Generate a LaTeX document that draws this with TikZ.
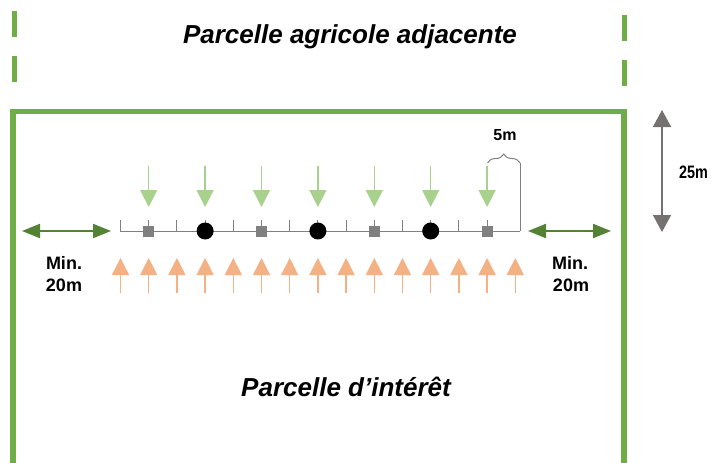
\documentclass[tikz,border=0pt]{standalone}
\usepackage{fontspec}
\setmainfont{Liberation Sans}
\usetikzlibrary{arrows.meta,decorations.pathreplacing}
\definecolor{framegreen}{HTML}{70AD47}
\definecolor{lightgreen}{HTML}{A9D18E}
\definecolor{darkgreen}{HTML}{548235}
\definecolor{peach}{HTML}{F4B183}
\definecolor{rulergray}{HTML}{808080}
\definecolor{dimgray}{HTML}{767171}
\tikzset{
  frameline/.style={draw=framegreen,line width=5.5pt},
  rulerline/.style={draw=rulergray,line width=1pt},
  downarrow/.style={draw=lightgreen,line width=1.4pt,-{Triangle[length=17pt,width=17pt]}},
  uparrow/.style={draw=peach,line width=1.4pt,-{Triangle[length=17pt,width=17pt]}},
  minarrow/.style={draw=darkgreen,line width=2pt,{Triangle[length=18pt,width=14pt]}-{Triangle[length=18pt,width=14pt]}},
  dimarrow/.style={draw=dimgray,line width=1.5pt,{Triangle[length=17pt,width=18pt]}-{Triangle[length=17pt,width=18pt]}},
  sqmark/.style={fill=rulergray,minimum size=11pt,inner sep=0pt,outer sep=0pt},
  dotmark/.style={circle,fill=black,minimum size=17pt,inner sep=0pt,outer sep=0pt},
  title/.style={font=\fontsize{26}{30}\selectfont\bfseries\itshape,inner sep=0pt},
  lbl/.style={font=\fontsize{18}{22}\selectfont\bfseries,inner sep=0pt,align=center}
}
\begin{document}
\begin{tikzpicture}[x=1pt,y=-1pt]
\clip (0,0) rectangle (712,463);
\fill[white] (0,0) rectangle (712,463);

% adjacent plot dashed borders
\coordinate (dl1a) at (14.5,11); \coordinate (dl1b) at (14.5,37);
\coordinate (dl2a) at (14.5,56); \coordinate (dl2b) at (14.5,82);
\coordinate (dr1a) at (624.5,15); \coordinate (dr1b) at (624.5,41);
\coordinate (dr2a) at (624.5,60); \coordinate (dr2b) at (624.5,86);
\draw[frameline] (dl1a) -- (dl1b);
\draw[frameline] (dl2a) -- (dl2b);
\draw[frameline] (dr1a) -- (dr1b);
\draw[frameline] (dr2a) -- (dr2b);

% plot of interest frame
\coordinate (fbl) at (13,470);
\coordinate (ftl) at (13,111.5);
\coordinate (ftr) at (624,111.5);
\coordinate (fbr) at (624,470);
\draw[frameline] (fbl) -- (ftl) -- (ftr) -- (fbr);

% titles
\node[title] (adj) at (350,37) {Parcelle agricole adjacente};
\node[title] (interest) at (346,387) {Parcelle d’intérêt};

% ruler
\coordinate (rl) at (120.5,231);
\coordinate (rr) at (520,231);
\draw[rulerline] (rl) -- (rr);
\foreach \i in {0,...,13}{
  \coordinate (t\i) at ({120.5+28.2*\i},232);
  \coordinate (tt\i) at ({120.5+28.2*\i},220);
  \draw[rulerline] (tt\i) -- (t\i);
}
% spacing brace
\coordinate (bl) at (487.5,163);
\coordinate (br) at (520,163);
\draw[rulerline,decorate,decoration={brace,amplitude=9pt}] (bl) -- (br);
\draw[rulerline] (br) -- (rr);
\node[font=\fontsize{16}{19}\selectfont\bfseries,inner sep=0pt] (five) at (505,135) {5m};

% green (downwind) arrows
\foreach \i in {1,3,5,7,9,11,13}{
  \coordinate (ga\i) at ({120.5+28.2*\i},166);
  \coordinate (gb\i) at ({120.5+28.2*\i},207);
  \draw[downarrow] (ga\i) -- (gb\i);
}
% orange (upwind) arrows
\foreach \i in {0,...,14}{
  \coordinate (oa\i) at ({120.5+28.2*\i},293);
  \coordinate (ob\i) at ({120.5+28.2*\i},258);
  \draw[uparrow] (oa\i) -- (ob\i);
}

% traps
\foreach \i in {1,5,9,13}{
  \node[sqmark] (sq\i) at ({120.5+28.2*\i},231) {};
}
\foreach \i in {3,7,11}{
  \node[dotmark] (dot\i) at ({120.5+28.2*\i},231) {};
}

% min 20 m arrows
\coordinate (mla) at (22,231); \coordinate (mlb) at (111,231);
\coordinate (mra) at (528,231); \coordinate (mrb) at (611,231);
\draw[minarrow] (mla) -- (mlb);
\draw[minarrow] (mra) -- (mrb);
\node[lbl] (minL) at (64,263) {Min.};
\node[lbl] (twentyL) at (64,285) {20m};
\node[lbl] (minR) at (570,263) {Min.};
\node[lbl] (twentyR) at (571,285) {20m};

% 25 m arrow
\coordinate (da) at (662,110); \coordinate (db) at (662,232);
\draw[dimarrow] (da) -- (db);
\node[lbl,anchor=west,xscale=0.8] (tfive) at (679,172) {25m};
\end{tikzpicture}
\end{document}
